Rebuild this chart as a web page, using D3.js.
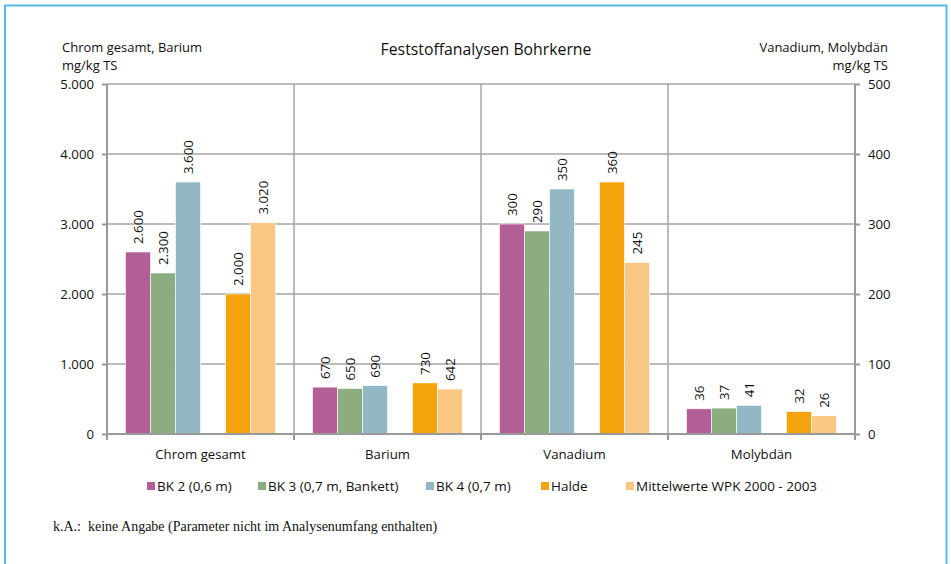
<!DOCTYPE html>
<html>
<head>
<meta charset="utf-8">
<script src="https://cdn.jsdelivr.net/npm/d3@7"></script>
<style>
  body { margin: 0; background: #fff; }
  svg text { font-family: "Open Sans", "Noto Sans", sans-serif; fill: #111; }
  .grid line { stroke: #a6a6a6; stroke-width: 1.5; }
  .axis path, .axis line { stroke: #999; stroke-width: 2; }
  .note { font-family: "Liberation Serif", "DejaVu Serif", serif; white-space: pre; }
</style>
</head>
<body>
<svg id="chart" width="951" height="564"></svg>
<script>
"use strict";

// chart data
const categories = ['Chrom gesamt', 'Barium', 'Vanadium', 'Molybdän'];
const categoryAxis = ['left', 'left', 'right', 'right'];
const seriesNames = ['BK 2 (0,6 m)', 'BK 3 (0,7 m, Bankett)', 'BK 4 (0,7 m)', 'Halde', 'Mittelwerte WPK 2000 - 2003'];
const seriesColors = ['#b35f97', '#8cad7f', '#92b8c5', '#f5a30c', '#f9c781'];
const seriesSlot = [0, 1, 2, 4, 5]; // slot 3 stays empty
const bk2 = [2600, 670, 300, 36];
const bk3 = [2300, 650, 290, 37];
const bk4 = [3600, 690, 350, 41];
const halde = [2000, 730, 360, 32];
const mittelwerte = [3020, 642, 245, 26];
const leftTicks = [0, 1000, 2000, 3000, 4000, 5000];
const rightTicks = [0, 100, 200, 300, 400, 500];
const leftTitle = ['Chrom gesamt, Barium', 'mg/kg TS'];
const rightTitle = ['Vanadium, Molybdän', 'mg/kg TS'];

const seriesValues = [bk2, bk3, bk4, halde, mittelwerte];

const de = d3.formatLocale({ decimal: ',', thousands: '.', grouping: [3], currency: ['', ' €'] });
const fmt = de.format(',d');

const svg = d3.select('#chart');

// blue frame
svg.append('path')
  .attr('d', 'M5,570 V5.5 H946.5 V570')
  .attr('fill', 'none')
  .attr('stroke', '#5cb8e6')
  .attr('stroke-width', 2);

const plot = { left: 107, right: 855, top: 84, bottom: 434 };

const x0 = d3.scaleBand().domain(categories).range([plot.left, plot.right]);
const x1 = d3.scaleBand().domain(d3.range(6)).range([18.5, x0.bandwidth() - 18.5]);
const yLeft = d3.scaleLinear().domain([0, 5000]).range([plot.bottom, plot.top]);
const yRight = d3.scaleLinear().domain([0, 500]).range([plot.bottom, plot.top]);
const yFor = i => categoryAxis[i] === 'left' ? yLeft : yRight;

// horizontal gridlines
svg.append('g').attr('class', 'grid')
  .selectAll('line')
  .data(leftTicks.filter(t => t > 0))
  .join('line')
    .attr('x1', plot.left).attr('x2', plot.right)
    .attr('y1', d => yLeft(d)).attr('y2', d => yLeft(d));

// vertical separators between categories
svg.append('g').attr('class', 'grid')
  .selectAll('line')
  .data(categories.slice(1))
  .join('line')
    .attr('x1', d => x0(d)).attr('x2', d => x0(d))
    .attr('y1', plot.top).attr('y2', plot.bottom);

// bars
const bars = [];
seriesValues.forEach((vals, s) => {
  vals.forEach((v, i) => {
    bars.push({ s: s, i: i, v: v });
  });
});

const barsG = svg.append('g');
barsG.selectAll('rect')
  .data(bars)
  .join('rect')
    .attr('x', d => x0(categories[d.i]) + x1(seriesSlot[d.s]))
    .attr('width', x1.bandwidth())
    .attr('y', d => yFor(d.i)(d.v))
    .attr('height', d => plot.bottom - yFor(d.i)(d.v))
    .attr('fill', d => seriesColors[d.s])
    .attr('stroke', '#fff')
    .attr('stroke-width', 0.6);

// value labels, rotated
barsG.selectAll('text')
  .data(bars)
  .join('text')
    .attr('transform', d => {
      let cx = x0(categories[d.i]) + x1(seriesSlot[d.s]) + x1.bandwidth() / 2;
      let ty = yFor(d.i)(d.v) - 8;
      return `translate(${cx},${ty}) rotate(-90)`;
    })
    .attr('dy', '0.35em')
    .style('font-size', '13.3px')
    .text(d => fmt(d.v));

// axes
const axL = svg.append('g').attr('class', 'axis')
  .attr('transform', `translate(${plot.left},0)`)
  .call(d3.axisLeft(yLeft).tickValues(leftTicks).tickFormat(fmt).tickSize(5).tickPadding(8));
const axR = svg.append('g').attr('class', 'axis')
  .attr('transform', `translate(${plot.right},0)`)
  .call(d3.axisRight(yRight).tickValues(rightTicks).tickSize(5).tickPadding(8));
const axB = svg.append('g').attr('class', 'axis')
  .attr('transform', `translate(0,${plot.bottom})`)
  .call(d3.axisBottom(x0).tickSize(0).tickPadding(16));
[axL, axR, axB].forEach(a => {
  a.select('.domain').attr('d', null);
  a.selectAll('text').style('font-size', '13.2px').attr('fill', '#111');
});
axL.select('.domain').attr('d', `M0,${plot.top}V${plot.bottom}`);
axR.select('.domain').attr('d', `M0,${plot.top}V${plot.bottom}`);
axB.select('.domain').attr('d', `M${plot.left},0H${plot.right}`);
// small ticks at category boundaries
axB.selectAll('.sep')
  .data(categories.concat(['end']))
  .join('line')
    .attr('class', 'sep')
    .attr('x1', (d, k) => k < categories.length ? x0(d) : plot.right)
    .attr('x2', (d, k) => k < categories.length ? x0(d) : plot.right)
    .attr('y1', 0).attr('y2', 6);

// titles
svg.append('text')
  .attr('x', 486).attr('y', 55)
  .attr('text-anchor', 'middle')
  .style('font-size', '15.8px')
  .text('Feststoffanalysen Bohrkerne');

// two-line axis titles
svg.append('text')
  .attr('y', 52)
  .style('font-size', '13px')
  .selectAll('tspan')
  .data(leftTitle)
  .join('tspan')
    .attr('x', 62)
    .attr('dy', (d, k) => k ? 18 : 0)
    .text(d => d);
svg.append('text')
  .attr('y', 52)
  .attr('text-anchor', 'end')
  .style('font-size', '13px')
  .selectAll('tspan')
  .data(rightTitle)
  .join('tspan')
    .attr('x', 888)
    .attr('dy', (d, k) => k ? 18 : 0)
    .text(d => d);

// legend
const legendX = [147, 258, 426, 541, 626];
const legend = svg.append('g').attr('transform', 'translate(0,491)');
const li = legend.selectAll('g')
  .data(seriesNames)
  .join('g')
    .attr('transform', (d, k) => `translate(${legendX[k]},0)`);
li.append('rect')
  .attr('x', 0).attr('y', -9)
  .attr('width', 8).attr('height', 8)
  .attr('fill', (d, k) => seriesColors[k]);
li.append('text')
  .attr('x', 10).attr('y', 0)
  .style('font-size', '13.5px')
  .text(d => d);

// footnote
svg.append('text')
  .attr('class', 'note')
  .attr('x', 53).attr('y', 531)
  .style('font-size', '14px')
  .text('k.A.:  keine Angabe (Parameter nicht im Analysenumfang enthalten)');
</script>
</body>
</html>
